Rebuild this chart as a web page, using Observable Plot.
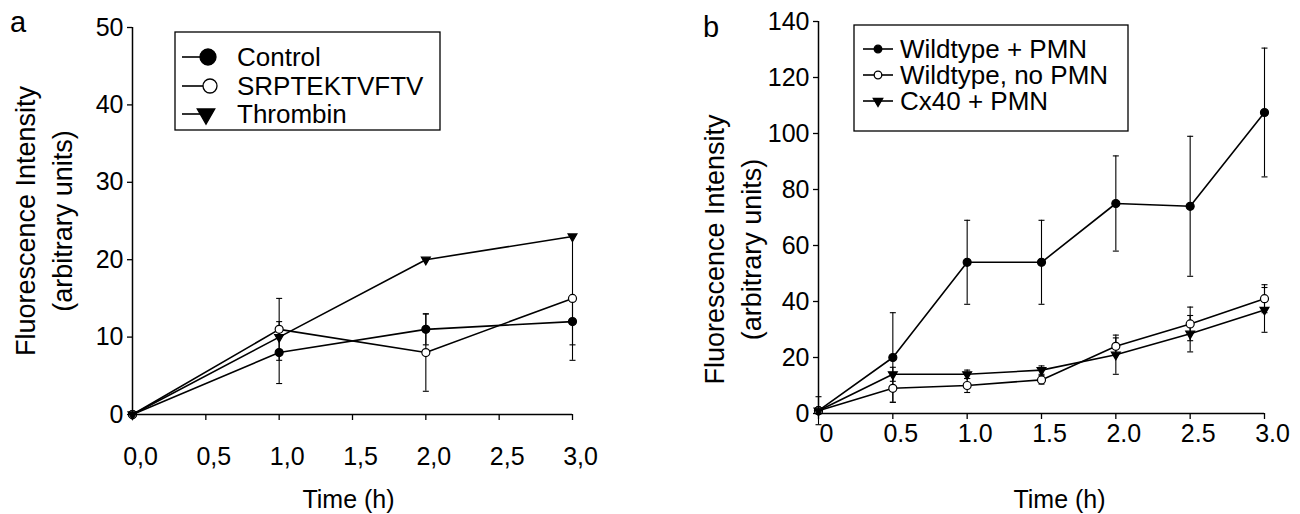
<!DOCTYPE html>
<html><head><meta charset="utf-8">
<script src="https://cdn.jsdelivr.net/npm/d3@7"></script>
<script src="https://cdn.jsdelivr.net/npm/@observablehq/plot@0.6"></script>
<style>
body{margin:0;background:#fff;}
#wrap{position:relative;width:1300px;height:514px;display:flex;background:#fff;}
#wrap svg.plot{display:block;}
#overlay{position:absolute;left:0;top:0;pointer-events:none;}
</style></head><body>
<div id="wrap"></div>
<script>
// ---------- Panel a data ----------
const timesA = [0, 1, 2, 3];
const seriesA = ["Control", "SRPTEKTVFTV", "Thrombin"];
const controlA = [0, 8, 11, 12];
const controlErrA = [0, 4, 2, 3];
const srptA = [0, 11, 8, 15];
const srptErrA = [0, 4, 5, 8];
const thrombinA = [0, 10, 20, 23];
const thrombinErrA = [0, 0, 0, 0];
const xTicksA = [0, 0.5, 1, 1.5, 2, 2.5, 3];
const xTickLabelsA = ["0,0", "0,5", "1,0", "1,5", "2,0", "2,5", "3,0"];
const yTicksA = [0, 10, 20, 30, 40, 50];

// ---------- Panel b data ----------
const timesB = [0, 0.5, 1, 1.5, 2, 2.5, 3];
const seriesB = ["Wildtype + PMN", "Wildtype, no PMN", "Cx40 + PMN"];
const wtPmnB = [1, 20, 54, 54, 75, 74, 107.5];
const wtPmnErrB = [5, 16, 15, 15, 17, 25, 23];
const wtNoPmnB = [1, 9, 10, 12, 24, 32, 41];
const wtNoPmnErrB = [0, 5, 2.5, 1.5, 3, 6, 5];
const cx40B = [1, 14, 14, 15.5, 21, 28.5, 37];
const cx40ErrB = [0, 2.5, 1.5, 1.5, 7, 6.5, 8];
const xTicksB = [0, 0.5, 1, 1.5, 2, 2.5, 3];
const xTickLabelsB = ["0", "0.5", "1.0", "1.5", "2.0", "2.5", "3.0"];
const yTicksB = [0, 20, 40, 60, 80, 100, 120, 140];

const yLabelText = "Fluorescence Intensity\n(arbitrary units)";
const xLabelText = "Time (h)";

const FONT = '"Liberation Sans", Arial, Helvetica, sans-serif';

// custom symbols
const triDown = {draw(ctx, size) {
  const y = Math.sqrt(size / (Math.sqrt(3) * 3));
  ctx.moveTo(0, 2 * y);
  ctx.lineTo(-Math.sqrt(3) * y, -y);
  ctx.lineTo(Math.sqrt(3) * y, -y);
  ctx.closePath();
}};
const capSym = {draw(ctx, size) {
  const w = Math.sqrt(size / Math.PI);
  ctx.moveTo(-w, 0);
  ctx.lineTo(w, 0);
}};

const stylesFilledOpenTri = [
  {symbol: "circle", fill: "black"},
  {symbol: "circle", fill: "white"},
  {symbol: triDown, fill: "black"}
];

function buildRows(times, names, values, errs) {
  return names.flatMap((s, k) => times.map((t, i) => ({s, k, t, v: values[k][i], e: errs[k][i]})));
}

function makePanel(cfg) {
  const rows = buildRows(cfg.times, cfg.names, cfg.values, cfg.errs);
  const errRows = rows.filter(d => d.e > 0);
  const caps = errRows.flatMap(d => [{t: d.t, y: d.v - d.e}, {t: d.t, y: d.v + d.e}]);
  const marks = [
    Plot.ruleX(errRows, {x: "t", y1: d => d.v - d.e, y2: d => d.v + d.e, stroke: "black", strokeWidth: 1.1}),
    Plot.dot(caps, {x: "t", y: "y", symbol: capSym, r: 3, stroke: "black", strokeWidth: 1.1, fill: "none"}),
    Plot.line(rows, {x: "t", y: "v", z: "s", stroke: "black", strokeWidth: 1.6}),
    ...stylesFilledOpenTri.map((st, k) => Plot.dot(rows.filter(d => d.k === k), {
      x: "t", y: "v", symbol: st.symbol, r: st.symbol === "circle" ? 4 : 3.3,
      fill: st.fill, stroke: "black", strokeWidth: 1.2
    })),
    Plot.ruleY([cfg.yDomain[0]], {stroke: "black", strokeWidth: 1.5}),
    Plot.ruleX([cfg.xDomain[0]], {stroke: "black", strokeWidth: 1.5}),
    Plot.axisX({ticks: cfg.xTicks, tickSize: 6, tickFormat: () => "", label: null, strokeWidth: 1.3}),
    Plot.axisX({ticks: cfg.xTicks, tickSize: 0, tickPadding: cfg.xPad, tickFormat: (d, i) => cfg.xLabels[i],
      label: null, fontSize: 25, dx: 8}),
    Plot.axisY({ticks: cfg.yTicks, tickSize: 5, tickPadding: 4, label: null, fontSize: 25, strokeWidth: 1.3}),
    Plot.text([yLabelText], {frameAnchor: "left", rotate: -90, textAnchor: "middle", lineAnchor: "middle",
      dx: cfg.yLabDx, dy: cfg.yLabDy, fontSize: 27, lineHeight: 1.4, fill: "black"}),
    Plot.text([xLabelText], {frameAnchor: "bottom", textAnchor: "middle", lineAnchor: "middle",
      dx: cfg.xLabDx, dy: cfg.xLabDy, fontSize: 25, fill: "black"})
  ];
  const p = Plot.plot({
    width: 650, height: 514,
    marginLeft: cfg.m[0], marginRight: cfg.m[1], marginTop: cfg.m[2], marginBottom: cfg.m[3],
    x: {domain: cfg.xDomain},
    y: {domain: cfg.yDomain},
    style: {fontFamily: FONT, color: "black", background: "white", overflow: "visible"},
    marks
  });
  p.classList.add("plot");
  return p;
}

const wrap = document.getElementById("wrap");
wrap.appendChild(makePanel({
  times: timesA, names: seriesA,
  values: [controlA, srptA, thrombinA], errs: [controlErrA, srptErrA, thrombinErrA],
  xDomain: [0, 3], yDomain: [0, 50], xTicks: xTicksA, xLabels: xTickLabelsA, yTicks: yTicksA,
  m: [132, 78, 27, 100], xPad: 33, yLabDx: -91, yLabDy: 0, xLabDx: -4, xLabDy: 85
}));
wrap.appendChild(makePanel({
  times: timesB, names: seriesB,
  values: [wtPmnB, wtNoPmnB, cx40B], errs: [wtPmnErrB, wtNoPmnErrB, cx40ErrB],
  xDomain: [0, 3], yDomain: [0, 140], xTicks: xTicksB, xLabels: xTickLabelsB, yTicks: yTicksB,
  m: [168, 36, 21, 101], xPad: 11, yLabDx: -88, yLabDy: 32, xLabDx: 18, xLabDy: 86
}));

// ---------- overlay: panel letters and legends ----------
const ov = d3.select(wrap).append("svg").attr("id", "overlay")
  .attr("width", 1300).attr("height", 514)
  .attr("font-family", FONT).attr("fill", "black");

ov.append("text").attr("x", 10).attr("y", 32).attr("font-size", 29).text("a");
ov.append("text").attr("x", 703).attr("y", 37).attr("font-size", 29).text("b");

function legend(g, cfg) {
  g.append("rect").attr("x", cfg.box[0]).attr("y", cfg.box[1]).attr("width", cfg.box[2]).attr("height", cfg.box[3])
    .attr("fill", "white").attr("stroke", "black").attr("stroke-width", 1.3);
  cfg.names.forEach((name, k) => {
    const by = cfg.baselines[k];
    const cy = by - 9;
    const st = stylesFilledOpenTri[k];
    g.append("line").attr("x1", cfg.line[0]).attr("x2", cfg.line[1]).attr("y1", cy).attr("y2", cy)
      .attr("stroke", "black").attr("stroke-width", 1.6);
    const r = cfg.r[k];
    const type = st.symbol === "circle" ? d3.symbolCircle : triDown;
    g.append("path").attr("d", d3.symbol(type, Math.PI * r * r)())
      .attr("transform", `translate(${cfg.mx[k]},${cy})`)
      .attr("fill", st.fill).attr("stroke", "black").attr("stroke-width", 1.3);
    g.append("text").attr("x", cfg.tx).attr("y", by).attr("font-size", cfg.fs).text(name);
  });
}
legend(ov.append("g"), {
  names: seriesA, box: [175, 32, 265, 98], baselines: [66, 95, 123],
  line: [182, 205], mx: [208, 210, 206], r: [8, 7, 6.5], tx: 237, fs: 26
});
legend(ov.append("g"), {
  names: seriesB, box: [854, 25, 274, 106], baselines: [58, 84, 110],
  line: [863, 893], mx: [878, 878, 878], r: [3.8, 3.8, 3.5], tx: 900, fs: 26
});
</script>
</body></html>
